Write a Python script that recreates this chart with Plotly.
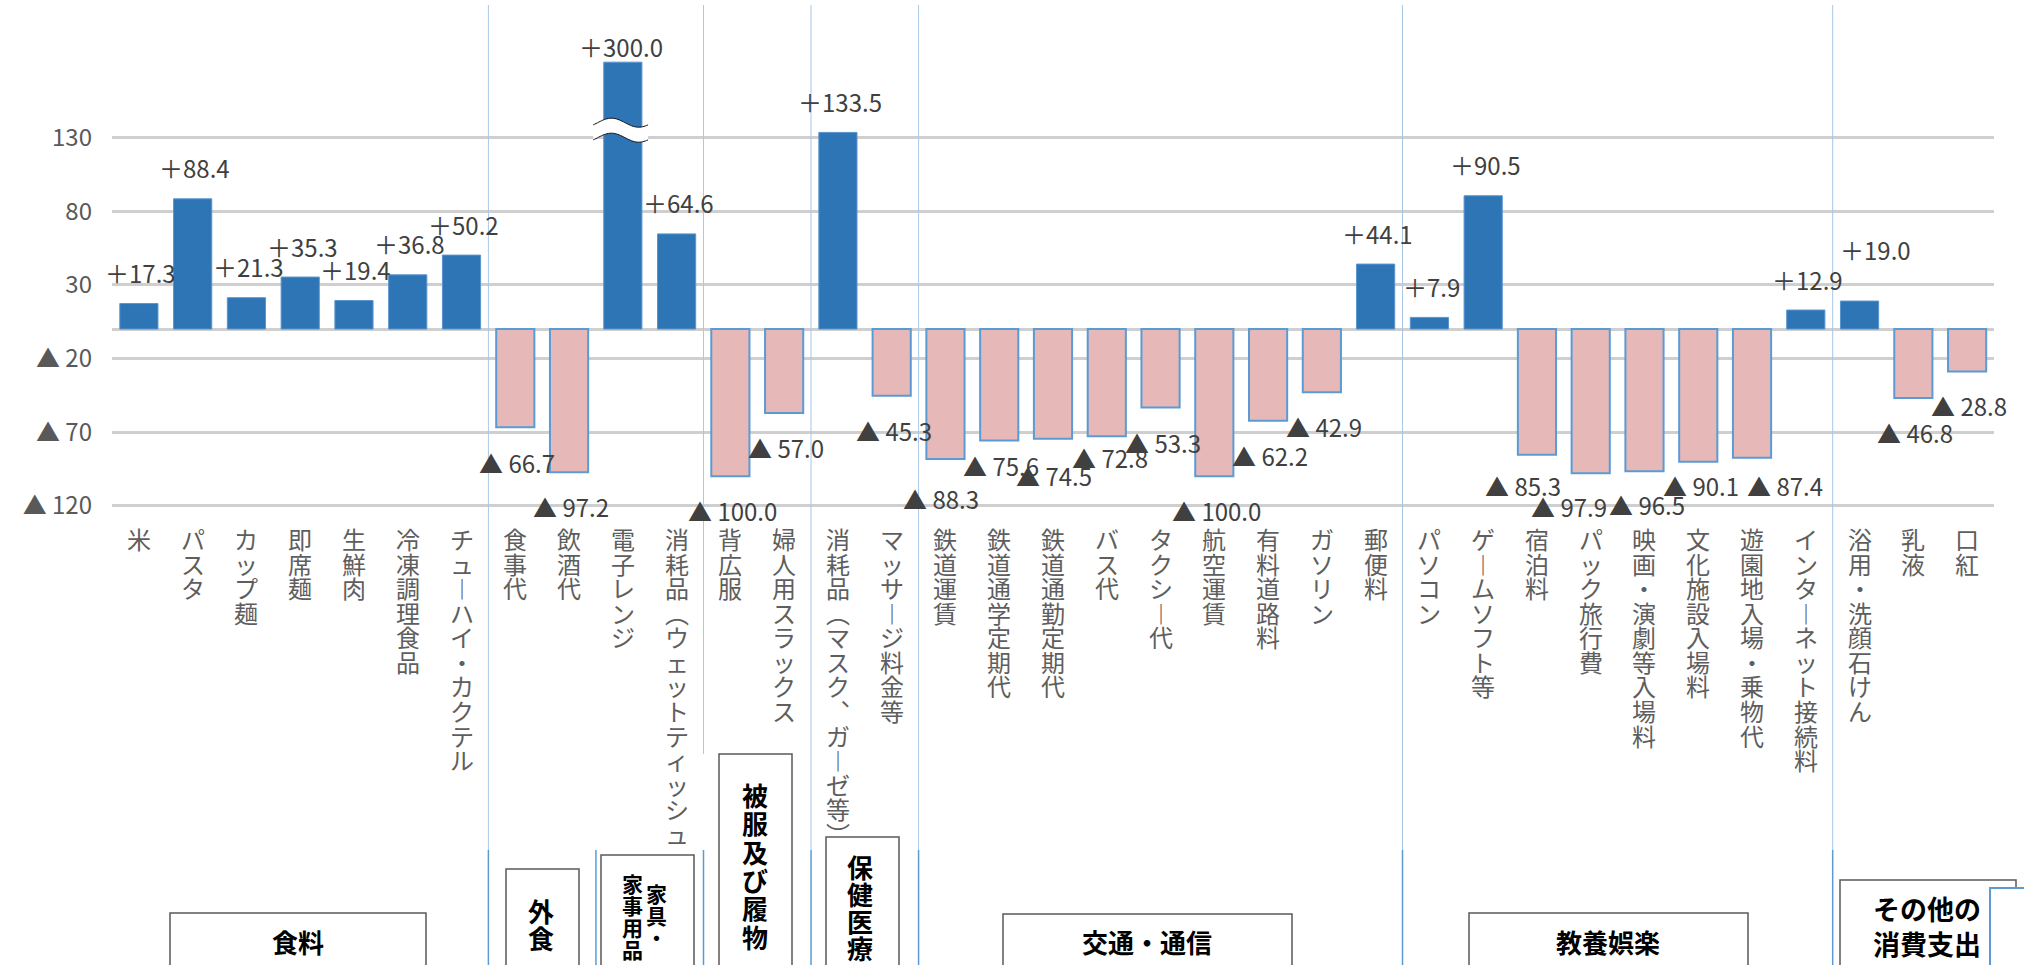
import math
import plotly.graph_objects as go

# ---- data -------------------------------------------------------------
categories = [
    "米", "パスタ", "カップ麺", "即席麺", "生鮮肉", "冷凍調理食品", "チューハイ・カクテル",
    "食事代", "飲酒代",
    "電子レンジ", "消耗品（ウェットティッシュ",
    "背広服", "婦人用スラックス",
    "消耗品（マスク、ガーゼ等）", "マッサージ料金等",
    "鉄道運賃", "鉄道通学定期代", "鉄道通勤定期代", "バス代", "タクシー代", "航空運賃",
    "有料道路料", "ガソリン", "郵便料",
    "パソコン", "ゲームソフト等", "宿泊料", "パック旅行費", "映画・演劇等入場料",
    "文化施設入場料", "遊園地入場・乗物代", "インターネット接続料",
    "浴用・洗顔石けん", "乳液", "口紅",
]
changes = [
    17.3, 88.4, 21.3, 35.3, 19.4, 36.8, 50.2,
    -66.7, -97.2,
    300.0, 64.6,
    -100.0, -57.0,
    133.5, -45.3,
    -88.3, -75.6, -74.5, -72.8, -53.3, -100.0, -62.2, -42.9, 44.1,
    7.9, 90.5, -85.3, -97.9, -96.5, -90.1, -87.4, 12.9,
    19.0, -46.8, -28.8,
]
groups = ["食料", "外食", "家具・家事用品", "被服及び履物", "保健医療",
          "交通・通信", "教養娯楽", "その他の消費支出"]
group_sizes = [7, 2, 2, 2, 2, 9, 8, 3]

tick_values = [130, 80, 30, -20, -70, -120]
tick_labels = ["130", "80", "30", "▲ 20", "▲ 70", "▲ 120"]

# ---- broken value axis ------------------------------------------------
AXIS_BREAK = 135
ABOVE_BREAK_SCALE = 0.28


def to_axis(v):
    return v if v <= AXIS_BREAK else AXIS_BREAK + (v - AXIS_BREAK) * ABOVE_BREAK_SCALE


# ---- page geometry ----------------------------------------------------
W, H = 2024, 965
ML, MR, MT, MB = 112, 30, 5, 457
PW, PH = W - ML - MR, H - MT - MB
N = len(categories)
Y_RANGE = [-121.5, 220]

FONT = "Noto Sans CJK JP"
POS_FILL, NEG_FILL = "#2E75B6", "#E6B8B7"
NEG_EDGE = "#5B9BD5"
GRID = "#CFCFCF"


def px_x(px):
    return (px - ML) / PW


def px_y(py):
    return (H - MB - py) / PH


def fmt(v):
    return f"＋{v:.1f}" if v >= 0 else f"▲ {abs(v):.1f}"


# glyph substitutes used when a name is written top-to-bottom
VERTICAL_FORMS = {"ー": "︱", "（": "︵", "）": "︶", "、": "︑"}


def stacked(text, glyph_px):
    return "<br>".join(
        f"<span style='font-size:{glyph_px}px'>{VERTICAL_FORMS.get(ch, ch)}</span>"
        for ch in text
    )


fig = go.Figure()

display = [to_axis(v) for v in changes]
fig.add_trace(go.Bar(
    x=list(range(N)),
    y=display,
    marker=dict(
        color=[POS_FILL if v >= 0 else NEG_FILL for v in changes],
        line=dict(color=["#5A95CF" if v >= 0 else NEG_EDGE for v in changes],
                  width=[1 if v >= 0 else 2 for v in changes]),
    ),
    hoverinfo="skip",
))

# value labels: default offset above / below each bar, with a few nudges
label_nudge = {
    7: (2, 35), 9: (-2, 16), 15: (-4, 39), 16: (2, 25), 17: (1, 37), 18: (3, 21),
    26: (-14, 31), 27: (-22, 33), 28: (3, 33), 29: (3, 24), 30: (33, 28),
    32: (16, 52),
}
annotations = []
for i, v in enumerate(changes):
    dx, dy = label_nudge.get(i, (2, 31 if v >= 0 else 34.5))
    annotations.append(dict(
        x=i, y=display[i], xref="x", yref="y", text=fmt(v), showarrow=False,
        xshift=dx, yshift=dy if v >= 0 else -dy, yanchor="middle", xanchor="center",
        font=dict(family=FONT, size=24, color="#404040"),
    ))

# vertical category names under the axis
for i, name in enumerate(categories):
    annotations.append(dict(
        x=i, y=px_y(519), xref="x", yref="paper", text=stacked(name, 24),
        showarrow=False, xanchor="center", yanchor="top", align="center",
        font=dict(family=FONT, size=18.9, color="#5E5E5E"),
    ))

shapes = []

# group separators
bounds = []
acc = 0
for s in group_sizes[:-1]:
    acc += s
    bounds.append(acc)
upper_end = {7: 850, 9: None, 11: 754, 13: 850, 15: 850, 24: 850, 32: 850}
for b in bounds:
    xp = b / N
    top_end = upper_end.get(b, 850)
    if top_end is not None:
        shapes.append(dict(type="line", xref="paper", yref="paper", x0=xp, x1=xp,
                           y0=px_y(5), y1=px_y(top_end),
                           line=dict(color="#A9C8E8", width=1)))
    shapes.append(dict(type="line", xref="paper", yref="paper", x0=xp, x1=xp,
                       y0=px_y(850), y1=px_y(968),
                       line=dict(color=NEG_EDGE, width=1.5)))

# wavy break mark on any bar that exceeds the break
units_per_px = (Y_RANGE[1] - Y_RANGE[0]) / PH
for i, v in enumerate(changes):
    if v <= AXIS_BREAK:
        continue
    xs = [i - 0.55 + 1.02 * k / 40 for k in range(41)]
    amp = 4.5 * units_per_px
    gap = 7.5 * units_per_px
    wave = [amp * math.sin(2 * math.pi * k / 40 - 0.5) for k in range(41)]
    top = [AXIS_BREAK + gap + w for w in wave]
    bot = [AXIS_BREAK - gap + w for w in wave]
    band = "M " + " L ".join(f"{x},{y}" for x, y in zip(xs, top))
    band += " L " + " L ".join(f"{x},{y}" for x, y in zip(xs[::-1], bot[::-1])) + " Z"
    shapes.append(dict(type="path", xref="x", yref="y", path=band,
                       fillcolor="white", line=dict(width=0), layer="above"))
    for curve in (top, bot):
        p = "M " + " L ".join(f"{x},{y}" for x, y in zip(xs, curve))
        shapes.append(dict(type="path", xref="x", yref="y", path=p,
                           line=dict(color="#111111", width=1), layer="above"))

# group boxes at the bottom
box_px = {
    "食料": (170, 426, 913),
    "外食": (506, 579, 869),
    "家具・家事用品": (601, 694, 855),
    "被服及び履物": (719, 792, 754),
    "保健医療": (826, 899, 837),
    "交通・通信": (1003, 1292, 914),
    "教養娯楽": (1469, 1748, 913),
    "その他の消費支出": (1840, 2016, 880),
}
for g in groups:
    x0, x1, top = box_px[g]
    shapes.append(dict(type="rect", xref="paper", yref="paper",
                       x0=px_x(x0), x1=px_x(x1), y0=px_y(top), y1=px_y(980),
                       fillcolor="white", line=dict(color="#595959", width=1.5),
                       layer="above"))
# page number box at the edge
shapes.append(dict(type="rect", xref="paper", yref="paper",
                   x0=px_x(1990), x1=px_x(2070), y0=px_y(888), y1=px_y(980),
                   fillcolor="white", line=dict(color=NEG_EDGE, width=2), layer="above"))

box_font = dict(family=FONT, size=26, color="#000000", weight="bold")


def box_text(text, xpx, ypx, size=26):
    annotations.append(dict(x=px_x(xpx), y=px_y(ypx), xref="paper", yref="paper",
                            text=text, showarrow=False, xanchor="center",
                            yanchor="middle", align="center",
                            font=dict(box_font, size=size)))


def box_text_vertical(text, xpx, ypx, glyph, pitch_font):
    annotations.append(dict(x=px_x(xpx), y=px_y(ypx), xref="paper", yref="paper",
                            text=stacked(text, glyph), showarrow=False,
                            xanchor="center", yanchor="middle",
                            font=dict(box_font, size=pitch_font)))


box_text(groups[0], 298, 941)
box_text(groups[5], 1147, 941)
box_text(groups[6], 1608, 941)
box_text("その他の<br>消費支出", 1927, 926, size=27)
box_text_vertical(groups[1], 541, 924, 26, 20.8)
box_text_vertical(groups[2][:3], 656, 915, 21, 17)
box_text_vertical(groups[2][3:], 632, 916, 21, 17)
box_text_vertical(groups[3], 755, 865, 26, 21.8)
box_text_vertical(groups[4], 860, 907, 26, 20.8)

fig.update_layout(
    width=W, height=H,
    margin=dict(l=ML, r=MR, t=MT, b=MB),
    paper_bgcolor="white", plot_bgcolor="white",
    showlegend=False,
    bargap=0.29,
    xaxis=dict(range=[-0.5, N - 0.5], showticklabels=False, showgrid=False,
               zeroline=False, showline=False, ticks="", fixedrange=True),
    yaxis=dict(range=Y_RANGE, tickvals=tick_values, ticktext=tick_labels,
               showgrid=True, gridcolor=GRID, gridwidth=2.5,
               zeroline=True, zerolinecolor=GRID, zerolinewidth=2.5,
               showline=False, ticks="", ticklabelstandoff=19,
               tickfont=dict(family=FONT, size=24, color="#595959")),
    shapes=shapes,
    annotations=annotations,
)

fig.write_html("out.html")
